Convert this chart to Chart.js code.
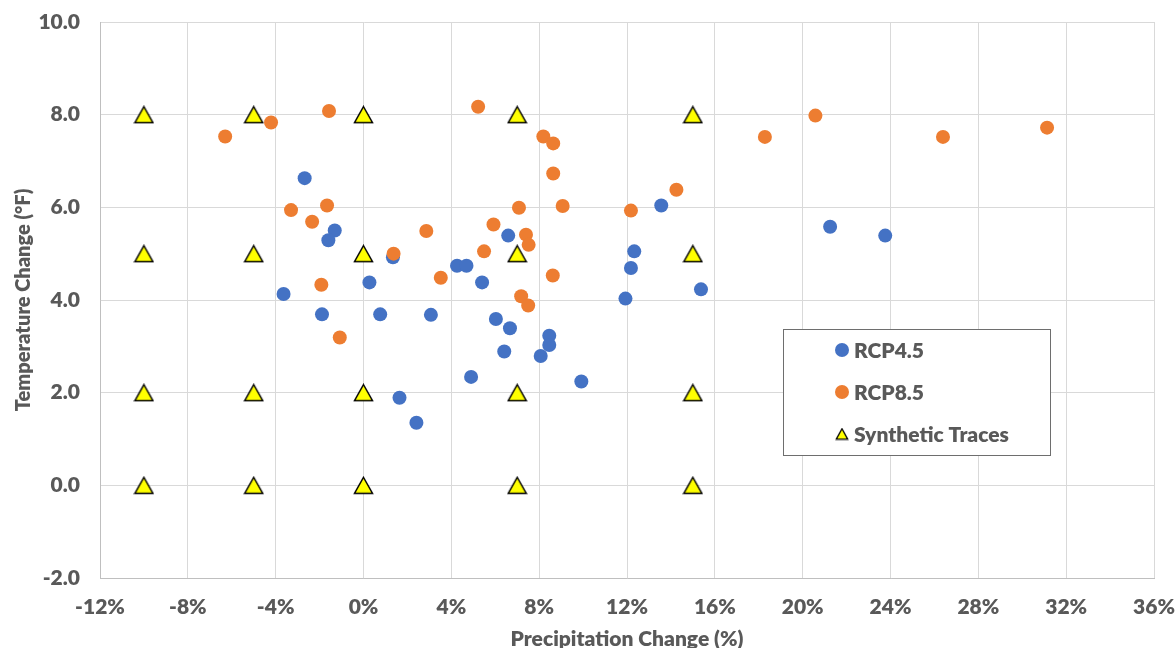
<!DOCTYPE html>
<html>
<head>
<meta charset="utf-8">
<script src="https://cdn.jsdelivr.net/npm/chart.js@4"></script>
<style>
  html, body { margin: 0; padding: 0; background: #fff; }
  #wrap { width: 1175px; height: 648px; position: relative; }
</style>
</head>
<body>
<div id="wrap"><canvas id="chart"></canvas></div>
<script>
// Donnees (x = variation precip. %, y = variation temp. °F)
const rcp45X = [-2.68, -1.31, -1.60, -3.64, -1.89, 0.27, 0.76, 1.34, 1.64, 2.41,
                3.07, 4.26, 4.69, 5.40, 6.59, 6.03, 6.67, 8.46, 8.46, 6.41,
                8.07, 4.90, 9.92, 13.56, 12.33, 12.18, 11.93, 15.37, 21.25, 23.76];
const rcp45Y = [6.63, 5.50, 5.29, 4.13, 3.69, 4.38, 3.69, 4.92, 1.89, 1.35,
                3.68, 4.74, 4.74, 4.38, 5.39, 3.59, 3.39, 3.23, 3.03, 2.89,
                2.79, 2.34, 2.24, 6.04, 5.05, 4.69, 4.03, 4.23, 5.58, 5.39];

const rcp85X = [-6.30, -4.21, -1.57, -3.30, -2.34, -1.66, -1.92, -1.08, 1.37, 2.86,
                3.52, 5.22, 5.92, 5.49, 7.08, 7.40, 7.52, 7.18, 7.50, 8.19,
                8.64, 8.64, 9.07, 8.62, 12.18, 14.25, 18.28, 20.58, 26.39, 31.13];
const rcp85Y = [7.53, 7.83, 8.08, 5.94, 5.69, 6.04, 4.33, 3.19, 5.00, 5.49,
                4.48, 8.17, 5.63, 5.05, 5.99, 5.41, 5.19, 4.08, 3.88, 7.53,
                7.38, 6.73, 6.03, 4.53, 5.93, 6.38, 7.52, 7.98, 7.52, 7.72];

// Traces synthetiques : grille precip x temp
const synthPrecip = [-10, -5, 0, 7, 15];
const synthTemp = [8, 5, 2, 0];

const xTicks = { min: -12, max: 36, step: 4 };
const yTicks = { min: -2, max: 10, step: 2 };

const FONT = 'Lato, "Open Sans", sans-serif';
const POIDS = '800';
const GRIS_TEXTE = '#595959';

function zipPoints(xs, ys) {
    return xs.map((x, i) => ({ x: x, y: ys[i] }));
}

function synthPoints() {
    const pts = [];
    synthPrecip.forEach(p => synthTemp.forEach(t => pts.push({ x: p, y: t })));
    return pts;
}

// marqueur triangle jaune facon Excel (centre sur la boite)
function makeTriangle(w, h, lw) {
    const c = document.createElement('canvas');
    c.width = w; c.height = h;
    const g = c.getContext('2d');
    g.beginPath();
    g.moveTo(w / 2, lw);
    g.lineTo(w - lw, h - lw);
    g.lineTo(lw, h - lw);
    g.closePath();
    g.fillStyle = '#FFFF00';
    g.fill();
    g.lineWidth = lw;
    g.lineJoin = 'miter';
    g.strokeStyle = '#000';
    g.stroke();
    return c;
}

const triPlot = makeTriangle(21, 19, 1.5);
const triLegend = makeTriangle(14, 13, 1.3);

// legende encadree dans la zone de trace
const legendBox = {
    id: 'legendBox',
    afterDraw(chart) {
        const ctx = chart.ctx;
        ctx.save();
        ctx.fillStyle = '#fff';
        ctx.fillRect(783, 329, 267, 126);
        ctx.strokeStyle = '#6e6e6e';
        ctx.lineWidth = 1;
        ctx.strokeRect(783.5, 329.5, 267, 126);
        chart.data.datasets.forEach((ds, i) => {
            const y = 350 + i * 42;
            if (ds.pointStyle === 'circle') {
                ctx.beginPath();
                ctx.arc(842, y, 7, 0, Math.PI * 2);
                ctx.fillStyle = ds.backgroundColor;
                ctx.fill();
            } else {
                ctx.drawImage(triLegend, 842 - 7, y - 6.5);
            }
            ctx.fillStyle = GRIS_TEXTE;
            ctx.font = POIDS + ' 21px ' + FONT;
            ctx.textBaseline = 'middle';
            ctx.textAlign = 'left';
            ctx.fillText(ds.label, 854, y + 1);
        });
        ctx.restore();
    }
};

new Chart(document.getElementById('chart'), {
    type: 'scatter',
    data: {
        datasets: [
            {
                label: 'RCP4.5',
                data: zipPoints(rcp45X, rcp45Y),
                pointStyle: 'circle',
                backgroundColor: '#4472C4',
                borderColor: '#4472C4',
                borderWidth: 0,
                pointRadius: 7,
                order: 2
            },
            {
                label: 'RCP8.5',
                data: zipPoints(rcp85X, rcp85Y),
                pointStyle: 'circle',
                backgroundColor: '#ED7D31',
                borderColor: '#ED7D31',
                borderWidth: 0,
                pointRadius: 7,
                order: 1
            },
            {
                label: 'Synthetic Traces',
                data: synthPoints(),
                pointStyle: triPlot,
                backgroundColor: '#FFFF00',
                borderColor: '#000',
                pointRadius: 10,
                order: 0
            }
        ]
    },
    options: {
        responsive: true,
        maintainAspectRatio: false,
        animation: false,
        layout: { padding: { top: 22, right: 21, left: 0, bottom: 0 } },
        plugins: {
            legend: { display: false },
            tooltip: { enabled: false }
        },
        scales: {
            x: {
                type: 'linear',
                min: xTicks.min,
                max: xTicks.max,
                afterFit: s => { s.height = 70; s.paddingLeft = 0; s.paddingRight = 0; },
                ticks: {
                    stepSize: xTicks.step,
                    padding: 17,
                    color: GRIS_TEXTE,
                    font: { family: FONT, size: 21, weight: POIDS },
                    callback: v => v + '%'
                },
                grid: { color: '#D9D9D9', drawTicks: false },
                border: { color: '#BFBFBF' },
                title: {
                    display: true,
                    text: 'Precipitation Change (%)',
                    color: GRIS_TEXTE,
                    padding: 0,
                    font: { family: FONT, size: 21, weight: POIDS, lineHeight: 0.8 }
                }
            },
            y: {
                type: 'linear',
                min: yTicks.min,
                max: yTicks.max,
                afterFit: s => { s.width = 100; s.paddingTop = 0; s.paddingBottom = 0; },
                ticks: {
                    stepSize: yTicks.step,
                    padding: 20,
                    color: GRIS_TEXTE,
                    font: { family: FONT, size: 21, weight: POIDS },
                    callback: v => v.toFixed(1)
                },
                grid: { color: '#D9D9D9', drawTicks: false },
                border: { color: '#BFBFBF' },
                title: {
                    display: true,
                    text: 'Temperature Change (°F)',
                    color: GRIS_TEXTE,
                    padding: { top: 12, bottom: 0 },
                    font: { family: FONT, size: 20, weight: POIDS }
                }
            }
        }
    },
    plugins: [legendBox]
});
</script>
</body>
</html>
